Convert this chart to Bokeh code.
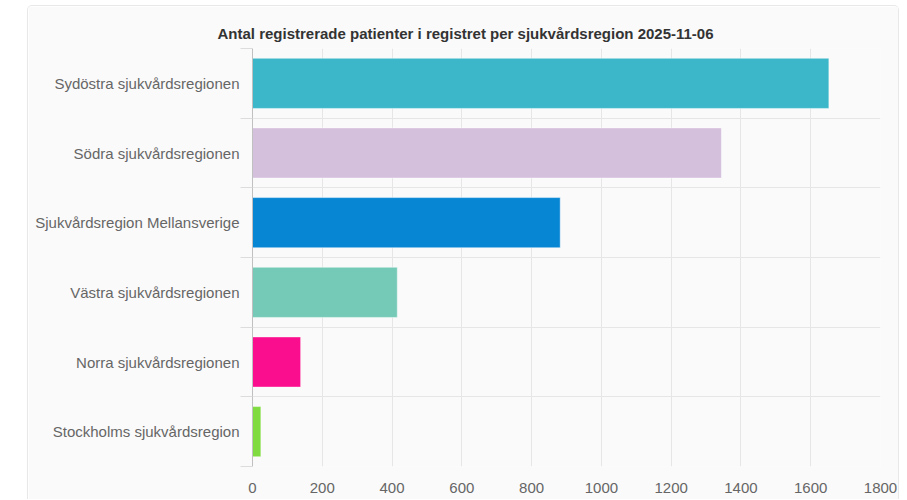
from bokeh.plotting import figure
from bokeh.embed import file_html
from bokeh.resources import INLINE
from bokeh.models import FixedTicker, Range1d, ColumnDataSource, Title

# ---- data ----
regions = [
    "Sydöstra sjukvårdsregionen",
    "Södra sjukvårdsregionen",
    "Sjukvårdsregion Mellansverige",
    "Västra sjukvårdsregionen",
    "Norra sjukvårdsregionen",
    "Stockholms sjukvårdsregion",
]
patients = [1652, 1344, 882, 415, 138, 24]
colors = ["#3bb7c9", "#d4bfdd", "#0786d4", "#75cab7", "#fb0e8d", "#7fdb40"]
x_ticks = [0, 200, 400, 600, 800, 1000, 1200, 1400, 1600, 1800]
title_text = "Antal registrerade patienter i registret per sjukvårdsregion 2025-11-06"

n = len(regions)
ypos = [n - i - 0.5 for i in range(n)]
src = ColumnDataSource(dict(y=ypos, v=patients, c=colors, name=regions))

FONT = "Liberation Sans"
BG = "#fafafa"

p = figure(width=872, height=494, output_backend="svg", toolbar_location=None,
           x_range=Range1d(0, 1800), y_range=Range1d(0, n),
           min_border_left=224, min_border_right=20, min_border_top=42, min_border_bottom=34,
           background_fill_color=BG, border_fill_color=BG, outline_line_color=None,
           margin=(5, 0, 0, 27))
p.styles = {"border": "1px solid #e8e8e8", "border-bottom": "none",
            "border-radius": "5px 5px 0 0"}

p.hbar(y="y", right="v", left=0, height=0.72, color="c", line_color="#ffffff",
       line_alpha=0.45, line_width=1, source=src)

t = Title(text=title_text, align="left", offset=-35, text_font=FONT,
          text_font_size="15px", text_font_style="bold", text_color="#333333",
          standoff=14)
p.add_layout(t, "above")

# x axis
p.xaxis.ticker = FixedTicker(ticks=x_ticks)
p.xaxis.axis_line_color = None
p.xaxis.major_tick_line_color = None
p.xaxis.minor_tick_line_color = None
p.xaxis.major_label_text_font = FONT
p.xaxis.major_label_text_font_size = "15px"
p.xaxis.major_label_text_color = "#666666"
p.xaxis.major_label_standoff = 10
p.xgrid.ticker = FixedTicker(ticks=x_ticks)
p.xgrid.grid_line_color = "#e6e6e6"

# y axis
p.yaxis.ticker = FixedTicker(ticks=ypos, minor_ticks=list(range(n + 1)))
p.yaxis.major_label_overrides = {y: r for y, r in zip(ypos, regions)}
p.yaxis.axis_line_color = "#c0c0c0"
p.yaxis.major_tick_line_color = None
p.yaxis.minor_tick_line_color = "#dcdcdc"
p.yaxis.minor_tick_out = 12
p.yaxis.minor_tick_in = 0
p.yaxis.major_label_text_font = FONT
p.yaxis.major_label_text_font_size = "15px"
p.yaxis.major_label_text_color = "#666666"
p.yaxis.major_label_standoff = 1
p.ygrid.ticker = FixedTicker(ticks=list(range(n + 1)))
p.ygrid.grid_line_color = "#e6e6e6"

open("out.html", "w").write(file_html(p, INLINE))
